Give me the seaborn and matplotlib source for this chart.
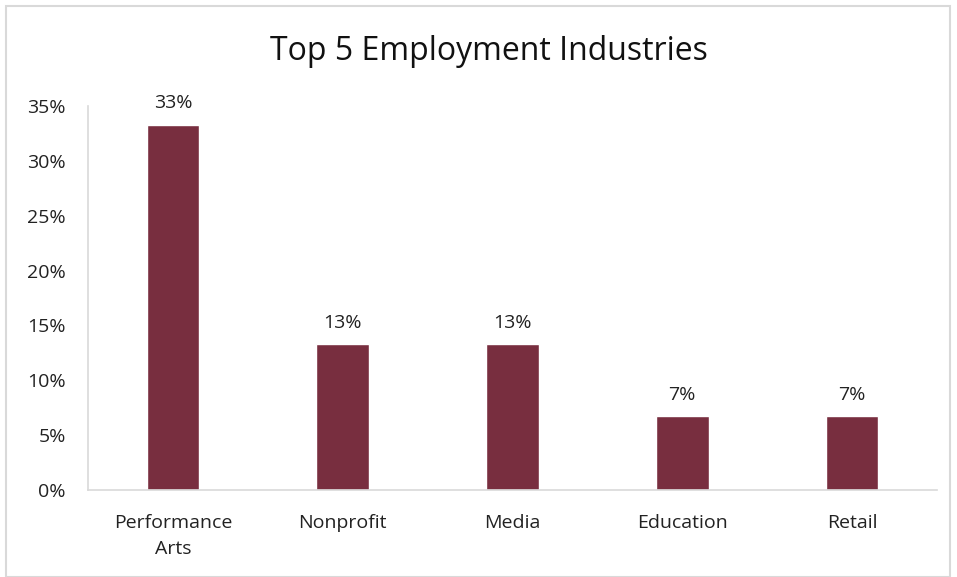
import matplotlib.pyplot as plt
import matplotlib.ticker as mtick
import seaborn as sns
import pandas as pd
from matplotlib.patches import Rectangle

# Chart data
industries = ["Performance\nArts", "Nonprofit", "Media", "Education", "Retail"]
shares = [0.333, 0.133, 0.133, 0.067, 0.067]
bar_labels = ["33%", "13%", "13%", "7%", "7%"]

df = pd.DataFrame({"industry": industries, "share": shares})

sns.set_theme(style="white")
plt.rcParams['font.family'] = ['Open Sans', 'DejaVu Sans']

fig = plt.figure(figsize=(9.57, 5.77), dpi=100)
ax = fig.add_axes([88 / 957, 1 - 490 / 577, (937 - 88) / 957, (490 - 106) / 577])

sns.barplot(data=df, x="industry", y="share", color="#782E3F", saturation=1,
            width=0.31, ax=ax)

for i, (v, lab) in enumerate(zip(shares, bar_labels)):
    ax.annotate(lab, (i, v), xytext=(0, 9), textcoords="offset points",
                ha="center", va="bottom", fontsize=14, color="#222222")

ax.set_ylim(0, 0.35)
ax.set_xlim(-0.5, 4.5)
ax.yaxis.set_major_locator(mtick.MultipleLocator(0.05))
ax.yaxis.set_major_formatter(mtick.PercentFormatter(1.0, decimals=0))
ax.set_xlabel("")
ax.set_ylabel("")
ax.tick_params(axis="both", labelsize=14, colors="#222222", length=0)
ax.tick_params(axis="x", pad=17)
ax.tick_params(axis="y", pad=16)
for t in ax.get_xticklabels():
    t.set_linespacing(1.6)

for side in ["top", "right"]:
    ax.spines[side].set_visible(False)
for side in ["left", "bottom"]:
    ax.spines[side].set_color("#D9D9D9")
    ax.spines[side].set_linewidth(1.2)

fig.text(489 / 957, 1 - 51 / 577, "Top 5 Employment Industries", ha="center",
         va="center", fontsize=23, color="#111111")

# outer chart border
fig.patches.append(Rectangle((6 / 957, 0), 944 / 957, 1 - 6 / 577,
                             transform=fig.transFigure, fill=False,
                             edgecolor="#D9D9D9", linewidth=1.5))

fig.savefig("out.png", dpi=100)
